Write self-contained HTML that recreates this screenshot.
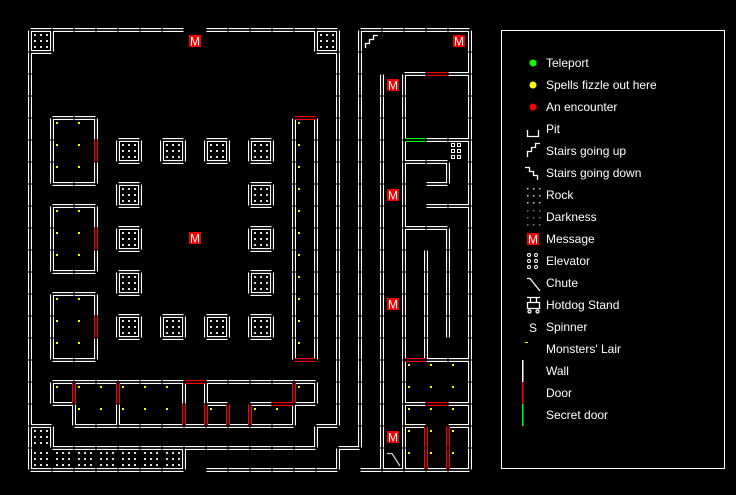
<!DOCTYPE html>
<html><head><meta charset="utf-8"><style>
html,body{margin:0;padding:0;background:#000;width:736px;height:495px;overflow:hidden}
svg{display:block}
text{font-family:"Liberation Sans",sans-serif}
</style></head><body>
<svg id="s" width="736" height="495" xmlns="http://www.w3.org/2000/svg">
<rect width="736" height="495" fill="#000"/>
<g id="rock"></g><g id="walls"></g><g id="misc"></g>
<rect x="501.5" y="30.5" width="223" height="438" fill="none" stroke="#fff" stroke-width="1"/>
<g font-size="12" fill="#fff">
<text x="546" y="67">Teleport</text>
<text x="546" y="89">Spells fizzle out here</text>
<text x="546" y="111">An encounter</text>
<text x="546" y="133">Pit</text>
<text x="546" y="155">Stairs going up</text>
<text x="546" y="177">Stairs going down</text>
<text x="546" y="199">Rock</text>
<text x="546" y="221">Darkness</text>
<text x="546" y="243">Message</text>
<text x="546" y="265">Elevator</text>
<text x="546" y="287">Chute</text>
<text x="546" y="309">Hotdog Stand</text>
<text x="546" y="331">Spinner</text>
<text x="546" y="353">Monsters' Lair</text>
<text x="546" y="375">Wall</text>
<text x="546" y="397">Door</text>
<text x="546" y="419">Secret door</text>
</g>
<circle cx="533" cy="63" r="3.5" fill="#0f0"/>
<circle cx="533" cy="85" r="3.5" fill="#ff0"/>
<circle cx="533" cy="107" r="3.5" fill="#f00"/>
<path d="M527.5,130 V136.5 H538.5 V130" fill="none" stroke="#fff" stroke-width="1.3"/>
<path d="M527.5,157 V151.5 H531.5 V147.5 H535.5 V143.5 H540" fill="none" stroke="#fff" stroke-width="1.3"/>
<path d="M525,167.5 H529.5 V171.5 H533.5 V175.5 H537.5 V180" fill="none" stroke="#fff" stroke-width="1.3"/>
<path d="M527,278.5 H530 L540,291" fill="none" stroke="#fff" stroke-width="1.3"/>
<g fill="none" stroke="#fff" stroke-width="1.3">
<path d="M527,297.5 H540 M530.5,297.5 V302 M536.5,297.5 V302"/>
<rect x="527.5" y="302.5" width="12" height="6"/>
<circle cx="529.5" cy="311.5" r="1.5"/><circle cx="537.5" cy="311.5" r="1.5"/>
</g>
<text x="529" y="332" font-size="12" fill="#fff">S</text>
<rect x="525" y="342" width="3" height="1" fill="#ff0"/>
<rect x="522" y="360" width="1.5" height="22" fill="#fff"/>
<rect x="522" y="382" width="1.5" height="22" fill="#f00"/>
<rect x="522" y="404" width="1.5" height="22" fill="#0f0"/>
</svg>
<script>
var NS="http://www.w3.org/2000/svg";
function el(p,t,a){var e=document.createElementNS(NS,t);for(var k in a)e.setAttribute(k,a[k]);document.getElementById(p).appendChild(e);return e;}
function wall(s,c){
 el("walls","line",{x1:s[0],y1:s[1],x2:s[2],y2:s[3],stroke:c,"stroke-width":4,"stroke-dasharray":"21 1","stroke-dashoffset":"-0.5"});
}
function inner(s){el("walls","line",{x1:s[0],y1:s[1],x2:s[2],y2:s[3],stroke:"#000","stroke-width":1.8});}
var W=[[52,30,184,30],[206,30,316,30],[30,30,52,30],[30,30,30,52],[52,30,52,52],[30,52,52,52],
[316,30,338,30],[316,30,316,52],[316,52,338,52],
[30,52,30,426],[338,30,338,426],[316,426,338,426],[316,426,316,448],[52,448,316,448],
[338,448,360,448],[338,448,338,470],[360,30,360,448],
[30,470,184,470],[184,448,184,470],[206,470,338,470],[360,470,470,470],
[30,426,52,426],[52,426,52,448],[30,426,30,470],
[294,118,294,360],[316,118,316,360],
[52,382,184,382],[206,382,316,382],[52,382,52,404],[52,404,74,404],[74,404,74,426],[74,426,294,426],
[294,404,294,426],[294,404,316,404],[316,382,316,404],[118,404,118,426],[184,382,184,404],[206,382,206,404],
[206,404,228,404],[250,404,272,404],
[360,30,470,30],[470,30,470,470],[382,74,382,470],[404,74,404,470],[404,74,426,74],[448,74,470,74],
[426,140,470,140],[404,162,448,162],[448,162,448,184],[426,184,448,184],[426,206,470,206],
[404,228,448,228],[448,228,448,338],[426,250,426,360],[426,360,470,360],
[404,404,426,404],[448,404,470,404],[404,426,426,426],[448,426,470,426]];
var R=[[294,118,316,118],[294,360,316,360],[184,382,206,382],[74,382,74,404],[118,382,118,404],
[184,404,184,426],[206,404,206,426],[228,404,228,426],[250,404,250,426],[272,404,294,404],[294,382,294,404],
[426,74,448,74],[404,360,426,360],[426,404,448,404],[426,426,426,470],[448,426,448,470]];
var G=[[404,140,426,140]];
[118,206,294].forEach(function(y){W.push([52,y,96,y],[52,y+66,96,y+66],[52,y,52,y+66],[96,y,96,y+22],[96,y+44,96,y+66]);R.push([96,y+22,96,y+44]);
 [0,22,44].forEach(function(d){[56,78].forEach(function(x){el("misc","rect",{x:x,y:y+4+d,width:2,height:2,fill:"#ff0"});});});});
var P=[[4,5],[6,5],[8,5],[10,5],[4,7],[10,7],[4,9],[10,9],[4,11],[10,11],[4,13],[6,13],[8,13],[10,13]];
var rockCells=[[0,0],[13,0],[0,18],[0,19],[1,19],[2,19],[3,19],[4,19],[5,19],[6,19]];
P.forEach(function(p){var x=30+22*p[0],y=30+22*p[1];W.push([x,y,x+22,y],[x,y+22,x+22,y+22],[x,y,x,y+22],[x+22,y,x+22,y+22]);rockCells.push(p);});
W.forEach(function(s){wall(s,"#fff")});R.forEach(function(s){wall(s,"#f00")});G.forEach(function(s){wall(s,"#0f0")});
W.concat(R,G).forEach(inner);
rockCells.forEach(function(p){var x=30+22*p[0],y=30+22*p[1];[5,11,17].forEach(function(a){[5,11,17].forEach(function(b){el("rock","rect",{x:x+a-1,y:y+b-1,width:2,height:2,fill:"#ddd"});});});});
[527,533,539].forEach(function(x){[188,195,202].forEach(function(y){el("misc","rect",{x:x,y:y,width:1.5,height:1.5,fill:"#ccc"});});[210,217,224].forEach(function(y){el("misc","rect",{x:x,y:y,width:1.5,height:1.5,fill:"#777"});});});
[529,536].forEach(function(x){[255,261,267].forEach(function(y){el("misc","circle",{cx:x,cy:y,r:1.5,fill:"none",stroke:"#fff","stroke-width":1});});});
[453,459].forEach(function(x){[145,151,157].forEach(function(y){el("misc","rect",{x:x-1.5,y:y-1.5,width:3,height:3,fill:"none",stroke:"#fff","stroke-width":1});});});
var Y=[];
for(var r=4;r<=14;r++)Y.push([298,30+22*r+4]);
[56,78,100,122,144,166,298].forEach(function(x){Y.push([x,386]);});
[78,100,122,144,166,210,254,276].forEach(function(x){Y.push([x,408]);});
[408,430,452].forEach(function(x){[364,386,408,430,452].forEach(function(y){Y.push([x,y]);});});
Y.forEach(function(p){el("misc","rect",{x:p[0],y:p[1],width:2,height:2,fill:"#ff0"});});
[[195,41],[459,41],[393,85],[393,195],[393,304],[393,437],[195,238],[533,239]].forEach(function(m){
 el("misc","rect",{x:m[0]-6,y:m[1]-6,width:12,height:12,fill:"#e00"});
 var t=el("misc","text",{x:m[0],y:m[1]+4.5,"font-size":"12","text-anchor":"middle",fill:"#fff"});t.textContent="M";});
el("misc","path",{d:"M365.5,48 V43.5 H369.5 V39.5 H373.5 V35.5 H378",fill:"none",stroke:"#fff","stroke-width":1.3});
el("misc","path",{d:"M387,453.5 H392 L400,466",fill:"none",stroke:"#ccc","stroke-width":1.3});
</script>
</body></html>
